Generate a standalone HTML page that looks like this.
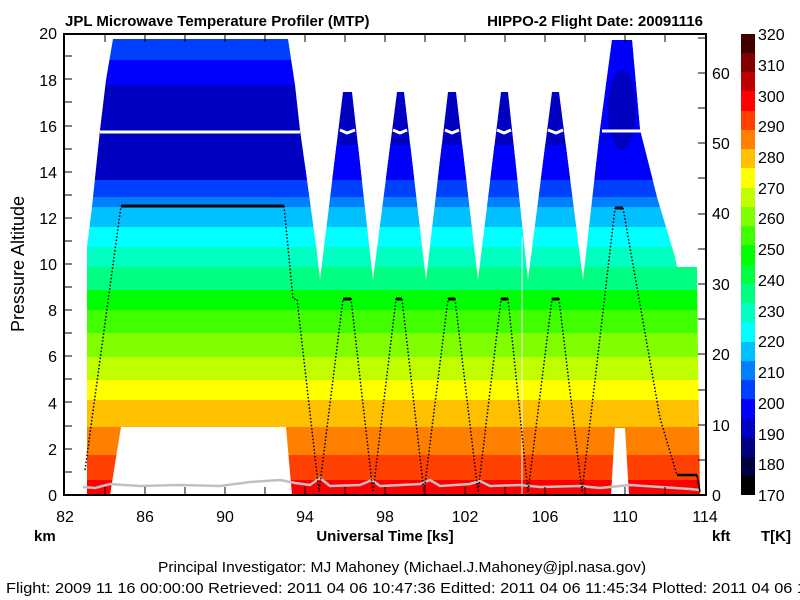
<!DOCTYPE html>
<html><head><meta charset="utf-8"><style>
html,body{margin:0;padding:0;background:#fff;}
svg{display:block;font-family:"Liberation Sans",Arial,sans-serif;}
</style></head><body>
<svg width="800" height="600" viewBox="0 0 800 600" xmlns="http://www.w3.org/2000/svg">
<defs>
<clipPath id="env">
<polygon points="87,495 87,247 92,207 100,130 106,80 113,39 288,39 295,85 300,130 307,180 317,253 320,280 343,92 352,92 373,280 397,92 404,92 426,280 448,92 456,92 478,280 501,92 508,92 528,280 552,92 559,92 583,280 600,130 612,40 632,40 640,130 657,197 675,257 677,267 697,267 697,280 700,495"/>
</clipPath>
</defs>
<g clip-path="url(#env)">
<rect x="64" y="33" width="642" height="27" fill="#0040FF"/>
<rect x="64" y="60" width="642" height="25" fill="#0000FF"/>
<rect x="64" y="85" width="642" height="95" fill="#0000C0"/>
<rect x="305" y="145" width="285" height="35" fill="#0000FF"/>
<rect x="590" y="40" width="116" height="140" fill="#0000FF"/>
<ellipse cx="622" cy="110" rx="14" ry="40" fill="#0000C0"/>
<rect x="64" y="180" width="642" height="17" fill="#0040FF"/>
<rect x="64" y="197" width="642" height="10" fill="#0080FF"/>
<rect x="64" y="207" width="642" height="20" fill="#00C0FF"/>
<rect x="64" y="227" width="642" height="20" fill="#00FFFF"/>
<rect x="64" y="247" width="642" height="20" fill="#00FFC0"/>
<rect x="64" y="267" width="642" height="23" fill="#00FF80"/>
<rect x="64" y="290" width="642" height="20" fill="#00FF00"/>
<rect x="64" y="310" width="642" height="23" fill="#40FF00"/>
<rect x="64" y="333" width="642" height="24" fill="#80FF00"/>
<rect x="64" y="357" width="642" height="23" fill="#C0FF00"/>
<rect x="64" y="380" width="642" height="20" fill="#FFFF00"/>
<rect x="64" y="400" width="642" height="27" fill="#FFC000"/>
<rect x="64" y="427" width="642" height="28" fill="#FF8000"/>
<rect x="64" y="455" width="642" height="25" fill="#FF4000"/>
<rect x="64" y="480" width="642" height="15" fill="#FF0000"/>
</g>
<polygon points="121,427 286,427 292,495 110,495" fill="#fff"/>
<polygon points="615,428 625,428 629,495 611,495" fill="#fff"/>
<line x1="522" y1="238" x2="522" y2="495" stroke="#fff" stroke-width="1"/>
<g stroke="#fff" stroke-width="3" fill="none">
<line x1="100" y1="132" x2="300" y2="132"/>
<polyline points="340,130 347,133 355,130"/>
<polyline points="393,130 400,133 407,130"/>
<polyline points="445,130 452,133 459,130"/>
<polyline points="497,130 504,133 511,130"/>
<polyline points="548,130 556,133 563,130"/>
<line x1="602" y1="131" x2="645" y2="131"/>
</g>
<polyline points="83,487 95,488 110,484 140,486 180,485 220,486 250,482 280,480 295,483 310,485 320,478 330,486 360,485 372,480 380,486 420,484 430,480 440,486 470,484 480,481 490,486 520,485 540,487 580,486 600,488 630,485 660,487 690,489 700,490" fill="none" stroke="#c0c0c0" stroke-width="2.5"/>
<g fill="none" stroke="#000">
<polyline points="85,470 121,206" stroke-width="1.5" stroke-dasharray="1.5,2"/>
<line x1="121" y1="206" x2="284" y2="206" stroke-width="3"/>
<polyline points="284,206 293,299 297,299 319,492 343,299 351,299 373,492 396,299 402,299 424,492 448,299 455,299 478,492 501,299 508,299 528,492 552,299 559,299 582,492 615,208" stroke-width="1.5" stroke-dasharray="1.5,2"/>
<line x1="615" y1="208" x2="623" y2="208" stroke-width="3"/>
<polyline points="623,208 660,418 677,475" stroke-width="1.5" stroke-dasharray="1.5,2"/>
<line x1="677" y1="475" x2="697" y2="475" stroke-width="2.5"/>
<line x1="697" y1="475" x2="700" y2="492" stroke-width="1.5"/>
<g stroke-width="3">
<line x1="343" y1="299" x2="351" y2="299"/><line x1="396" y1="299" x2="402" y2="299"/>
<line x1="448" y1="299" x2="455" y2="299"/><line x1="501" y1="299" x2="508" y2="299"/>
<line x1="552" y1="299" x2="559" y2="299"/>
</g>
</g>
<rect x="64" y="34" width="642" height="461" fill="none" stroke="#000" stroke-width="2"/>
<g stroke="#000" stroke-width="1">
<path d="M105,34v8M145,34v8M185,34v8M225,34v8M265,34v8M305,34v8M345,34v8M385,34v8M425,34v8M465,34v8M505,34v8M545,34v8M585,34v8M625,34v8M665,34v8"/>
<path d="M105,495v-8M145,495v-8M185,495v-8M225,495v-8M265,495v-8M305,495v-8M345,495v-8M385,495v-8M425,495v-8M465,495v-8M505,495v-8M545,495v-8M585,495v-8M625,495v-8M665,495v-8"/>
<path d="M64,56h8M64,79h8M64,102h8M64,126h8M64,149h8M64,172h8M64,195h8M64,218h8M64,241h8M64,264h8M64,287h8M64,310h8M64,333h8M64,356h8M64,379h8M64,402h8M64,426h8M64,449h8M64,472h8"/>
<path d="M706,460h-8M706,425h-8M706,390h-8M706,354h-8M706,319h-8M706,284h-8M706,249h-8M706,214h-8M706,178h-8M706,143h-8M706,108h-8M706,73h-8M706,38h-8"/>
</g>
<text x="65" y="26" font-size="15" font-weight="bold">JPL Microwave Temperature Profiler (MTP)</text>
<text x="703" y="26" font-size="15" font-weight="bold" text-anchor="end">HIPPO-2  Flight Date: 20091116</text>
<g font-size="16" text-anchor="end">
<text x="57" y="501">0</text><text x="57" y="455">2</text><text x="57" y="409">4</text>
<text x="57" y="362">6</text><text x="57" y="316">8</text><text x="57" y="270">10</text>
<text x="57" y="224">12</text><text x="57" y="178">14</text><text x="57" y="132">16</text>
<text x="57" y="86">18</text><text x="57" y="39">20</text>
</g>
<text transform="translate(24,264) rotate(-90)" font-size="18" text-anchor="middle">Pressure Altitude</text>
<g font-size="16">
<text x="712" y="501">0</text><text x="712" y="431">10</text><text x="712" y="360">20</text>
<text x="712" y="290">30</text><text x="712" y="219">40</text><text x="712" y="149">50</text>
<text x="712" y="79">60</text>
</g>
<g font-size="16" text-anchor="middle">
<text x="65" y="522">82</text><text x="145" y="522">86</text><text x="225" y="522">90</text>
<text x="305" y="522">94</text><text x="385" y="522">98</text><text x="465" y="522">102</text>
<text x="545" y="522">106</text><text x="625" y="522">110</text><text x="705" y="522">114</text>
</g>
<g font-size="15" font-weight="bold">
<text x="34" y="541">km</text>
<text x="385" y="541" text-anchor="middle">Universal Time [ks]</text>
<text x="712" y="541">kft</text>
<text x="761" y="541">T[K]</text>
</g>
<g>
<rect x="741" y="34" width="14" height="20" fill="#400000"/>
<rect x="741" y="53" width="14" height="20" fill="#800000"/>
<rect x="741" y="72" width="14" height="20" fill="#C00000"/>
<rect x="741" y="91" width="14" height="20" fill="#FF0000"/>
<rect x="741" y="111" width="14" height="20" fill="#FF4000"/>
<rect x="741" y="130" width="14" height="20" fill="#FF8000"/>
<rect x="741" y="149" width="14" height="20" fill="#FFC000"/>
<rect x="741" y="168" width="14" height="20" fill="#FFFF00"/>
<rect x="741" y="188" width="14" height="20" fill="#C0FF00"/>
<rect x="741" y="207" width="14" height="20" fill="#80FF00"/>
<rect x="741" y="226" width="14" height="20" fill="#40FF00"/>
<rect x="741" y="245" width="14" height="20" fill="#00FF00"/>
<rect x="741" y="265" width="14" height="20" fill="#00FF40"/>
<rect x="741" y="284" width="14" height="20" fill="#00FF80"/>
<rect x="741" y="303" width="14" height="20" fill="#00FFC0"/>
<rect x="741" y="322" width="14" height="20" fill="#00FFFF"/>
<rect x="741" y="342" width="14" height="20" fill="#00C0FF"/>
<rect x="741" y="361" width="14" height="20" fill="#0080FF"/>
<rect x="741" y="380" width="14" height="20" fill="#0040FF"/>
<rect x="741" y="399" width="14" height="20" fill="#0000FF"/>
<rect x="741" y="419" width="14" height="20" fill="#0000C0"/>
<rect x="741" y="438" width="14" height="20" fill="#000080"/>
<rect x="741" y="457" width="14" height="20" fill="#000040"/>
<rect x="741" y="476" width="14" height="19" fill="#000000"/>
</g>
<g font-size="16">
<text x="758" y="40">320</text><text x="758" y="71">310</text><text x="758" y="102">300</text>
<text x="758" y="132">290</text><text x="758" y="163">280</text><text x="758" y="194">270</text>
<text x="758" y="224">260</text><text x="758" y="255">250</text><text x="758" y="286">240</text>
<text x="758" y="317">230</text><text x="758" y="347">220</text><text x="758" y="378">210</text>
<text x="758" y="409">200</text><text x="758" y="440">190</text><text x="758" y="470">180</text>
<text x="758" y="501">170</text>
</g>
<text x="158" y="572" font-size="15" textLength="488" lengthAdjust="spacingAndGlyphs">Principal Investigator: MJ Mahoney (Michael.J.Mahoney@jpl.nasa.gov)</text>
<text x="6" y="593" font-size="15" textLength="800" lengthAdjust="spacingAndGlyphs">Flight: 2009 11 16 00:00:00   Retrieved: 2011 04 06 10:47:36   Editted: 2011 04 06 11:45:34  Plotted: 2011 04 06 1</text>
</svg>
</body></html>
